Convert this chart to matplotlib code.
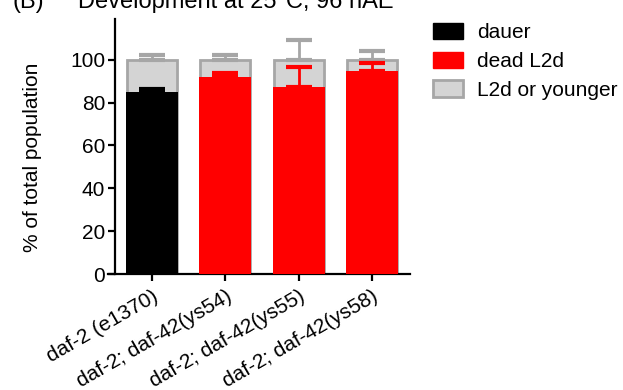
import matplotlib
matplotlib.use('Agg')
import matplotlib.pyplot as plt
from matplotlib.patches import Patch

plt.rcParams['font.family'] = ['Liberation Sans', 'DejaVu Sans']

strains = ['daf-2 (e1370)', 'daf-2; daf-42(ys54)', 'daf-2; daf-42(ys55)', 'daf-2; daf-42(ys58)']
main_pct = [84.9, 91.9, 87.4, 94.9]      # dauer (first) / dead L2d (rest)
main_err = [1.5, 1.9, 9.2, 3.4]
total_pct = [100, 100, 100, 100]         # with L2d or younger stacked on top
total_err = [2.0, 2.3, 9.0, 3.9]
main_colors = ['black', 'red', 'red', 'red']

GREY_FILL = '#d4d4d4'
GREY_EDGE = '#a6a6a6'
FS = 15

fig = plt.figure(figsize=(6.23, 3.9), dpi=100)
ax = fig.add_axes([108/623, 1-274/390, 302/623, 255/390])
xs = list(range(len(strains)))

for x, t, te, m, me, c in zip(xs, total_pct, total_err, main_pct, main_err, main_colors):
    ax.bar(x, t, width=0.68, color=GREY_FILL, edgecolor=GREY_EDGE, linewidth=2, zorder=1)
    ax.errorbar(x, t, yerr=[[0], [te]], fmt='none', ecolor=GREY_EDGE, elinewidth=2,
                capsize=9.5, capthick=3, zorder=2)
    ax.bar(x, m, width=0.71, color=c, linewidth=0, zorder=3)
    ax.errorbar(x, m, yerr=[[0], [me]], fmt='none', ecolor=c, elinewidth=2,
                capsize=9.5, capthick=3, zorder=4)

ax.set_xlim(-0.60, 3.52)
ax.set_ylim(0, 119)
ax.set_yticks([0, 20, 40, 60, 80, 100])
ax.set_xticks(xs)
ax.set_xticklabels(strains, rotation=30, ha='right', rotation_mode='anchor')
ax.spines['top'].set_visible(False)
ax.spines['right'].set_visible(False)
ax.spines['left'].set_position(('axes', 7/302))
ax.spines['left'].set_linewidth(1.6)
ax.spines['bottom'].set_linewidth(1.6)
ax.tick_params(axis='both', labelsize=FS, width=1.6, length=5, direction='out')
ax.tick_params(axis='y', pad=2)
ax.tick_params(axis='x', pad=4)
ax.set_ylabel('% of total population', fontsize=FS)
ax.yaxis.set_label_coords(-0.218, 0.459)

handles = [Patch(facecolor='black', edgecolor='black'),
           Patch(facecolor='red', edgecolor='red'),
           Patch(facecolor=GREY_FILL, edgecolor=GREY_EDGE, linewidth=2)]
fig.legend(handles, ['dauer', 'dead L2d', 'L2d or younger'], loc='upper left',
           bbox_to_anchor=(433/623, 1-23/390), frameon=False, fontsize=FS,
           borderpad=0, borderaxespad=0, handlelength=1.44, handleheight=0.82,
           handletextpad=0.67, labelspacing=0.45)

fig.text(13/623, 1-8/390, '(B)', fontsize=17, va='baseline')
fig.text(78/623, 1-8/390, 'Development at 25°C, 96 hAE', fontsize=17, va='baseline')

fig.savefig('out.png', dpi=100)
